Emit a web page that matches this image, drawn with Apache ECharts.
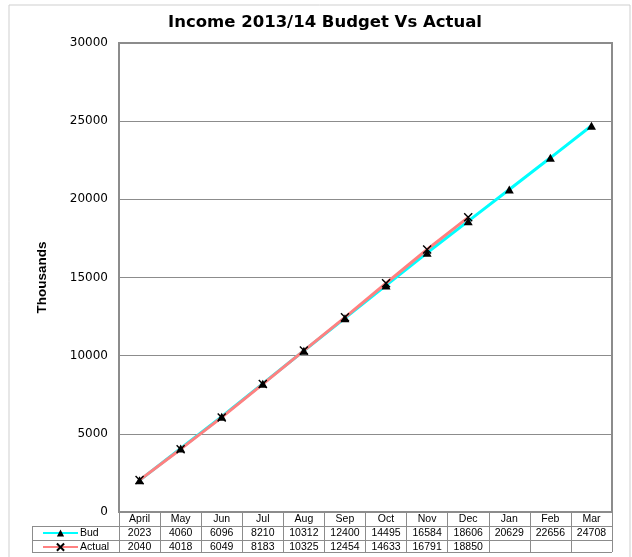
<!DOCTYPE html>
<html>
<head>
<meta charset="utf-8">
<script src="https://cdn.jsdelivr.net/npm/echarts@6/dist/echarts.min.js"></script>
<style>
  html, body { margin: 0; padding: 0; background: #fff; }
  #chart { width: 632px; height: 557px; }
</style>
</head>
<body>
<div id="chart"></div>
<script>
var months = ['April', 'May', 'Jun', 'Jul', 'Aug', 'Sep', 'Oct', 'Nov', 'Dec', 'Jan', 'Feb', 'Mar'];
var budget = [2023, 4060, 6096, 8210, 10312, 12400, 14495, 16584, 18606, 20629, 22656, 24708];
var actual = [2040, 4018, 6049, 8183, 10325, 12454, 14633, 16791, 18850];

var GRAY = '#8c8c8c';
var TXT = 'Liberation Sans, Arial, sans-serif';

// table rows as category labels (empty cells where no actual yet)
var budRow = budget.map(String);
var actRow = months.map(function (m, i) { return i < actual.length ? String(actual[i]) : ''; });

function tableAxis(data, offset) {
  return {
    type: 'category',
    position: 'bottom',
    offset: offset,
    data: data,
    gridIndex: 0,
    axisLine: { show: true, lineStyle: { color: GRAY, width: 1 } },
    axisTick: { show: false },
    axisLabel: { interval: 0, margin: 2, color: '#000', fontSize: 10.5, fontFamily: TXT }
  };
}

var chart = echarts.init(document.getElementById('chart'));
chart.setOption({
  animation: false,
  backgroundColor: '#fff',
  title: {
    text: 'Income 2013/14 Budget Vs Actual',
    left: 320,
    textAlign: 'center',
    top: 9,
    textStyle: { fontFamily: 'DejaVu Sans', fontWeight: 'bold', fontSize: 16.5, color: '#000' }
  },
  legend: {
    orient: 'vertical',
    left: 42,
    top: 527,
    itemWidth: 35,
    itemHeight: 9,
    itemGap: 2,
    padding: 0,
    textStyle: { fontFamily: TXT, fontSize: 10.5, lineHeight: 12, color: '#000', padding: [0, 0, 0, -3] },
    data: ['Bud', 'Actual']
  },
  grid: {
    left: 119, right: 20, top: 43, bottom: 45,
    show: true, borderColor: GRAY, borderWidth: 2
  },
  xAxis: [
    {
      type: 'category',
      position: 'bottom',
      data: months,
      boundaryGap: true,
      axisLine: { show: true, lineStyle: { color: GRAY, width: 2 } },
      axisTick: { show: true, interval: 0, length: 40, lineStyle: { color: GRAY, width: 1 } },
      axisLabel: { interval: 0, margin: 2, color: '#000', fontSize: 10.5, fontFamily: TXT }
    },
    tableAxis(budRow, 14),
    tableAxis(actRow, 28)
  ],
  yAxis: {
    type: 'value',
    min: 0,
    max: 30000,
    interval: 5000,
    name: 'Thousands',
    nameLocation: 'middle',
    nameRotate: 90,
    nameGap: 70,
    nameTextStyle: { fontFamily: TXT, fontWeight: 'bold', fontSize: 13.5, color: '#000' },
    axisLine: { show: true, lineStyle: { color: GRAY, width: 2 } },
    axisTick: { show: false },
    axisLabel: {
      margin: 11, color: '#000', fontSize: 12, fontFamily: 'DejaVu Sans',
      formatter: function (v) { return String(v); }
    },
    splitLine: { lineStyle: { color: GRAY, width: 1 } }
  },
  series: [
    {
      name: 'Bud',
      type: 'line',
      data: budget,
      symbol: 'triangle',
      symbolSize: [9, 8],
      lineStyle: { color: '#00ffff', width: 3 },
      itemStyle: { color: '#000' }
    },
    {
      name: 'Actual',
      type: 'line',
      data: actual,
      symbol: 'path://M0,0L10,10M10,0L0,10',
      symbolSize: 8,
      lineStyle: { color: '#ff8080', width: 3 },
      itemStyle: { color: 'none', borderColor: '#000', borderWidth: 1.4 }
    }
  ],
  graphic: [
    // outer chart frame
    { type: 'rect', shape: { x: 9, y: 5, width: 621, height: 560 }, style: { fill: 'none', stroke: '#cfcfcf', lineWidth: 1 }, silent: true },
    // legend cells of the data table
    { type: 'line', shape: { x1: 32, y1: 526.5, x2: 119, y2: 526.5 }, style: { stroke: GRAY, lineWidth: 1 } },
    { type: 'line', shape: { x1: 32, y1: 540.5, x2: 119, y2: 540.5 }, style: { stroke: GRAY, lineWidth: 1 } },
    { type: 'line', shape: { x1: 32, y1: 552.5, x2: 612, y2: 552.5 }, style: { stroke: GRAY, lineWidth: 1 } },
    { type: 'line', shape: { x1: 32.5, y1: 526, x2: 32.5, y2: 553 }, style: { stroke: GRAY, lineWidth: 1 } }
  ]
});
</script>
</body>
</html>
